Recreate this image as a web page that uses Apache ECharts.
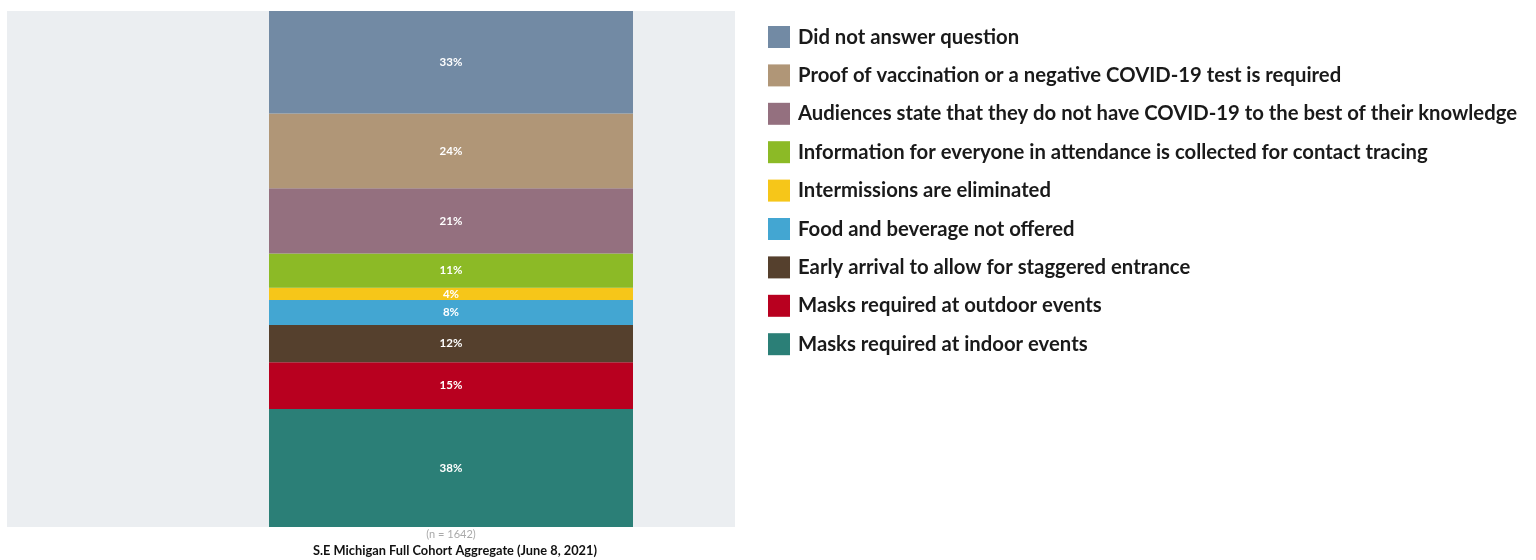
<!DOCTYPE html>
<html>
<head>
<meta charset="utf-8">
<script src="https://cdn.jsdelivr.net/npm/echarts@6/dist/echarts.min.js"></script>
<style>
  html, body { margin: 0; padding: 0; background: #ffffff; }
  #chart { width: 1536px; height: 560px; }
</style>
</head>
<body>
<div id="chart"></div>
<script>
// Stack order: first entry sits at the bottom of the bar
const categories = ['S.E Michigan Full Cohort Aggregate (June 8, 2021)'];
const seriesNames = [
  'Masks required at indoor events',
  'Masks required at outdoor events',
  'Early arrival to allow for staggered entrance',
  'Food and beverage not offered',
  'Intermissions are eliminated',
  'Information for everyone in attendance is collected for contact tracing',
  'Audiences state that they do not have COVID-19 to the best of their knowledge',
  'Proof of vaccination or a negative COVID-19 test is required',
  'Did not answer question'
];
const seriesValues = [38, 15, 12, 8, 4, 11, 21, 24, 33];
const seriesColors = ['#2b7f77', '#b8001f', '#55402d', '#43a6d2', '#f6c619', '#8cba26', '#94707f', '#b09677', '#728aa4'];
const sampleLabel = '(n = 1642)';

const total = seriesValues.reduce((a, b) => a + b, 0);

const chart = echarts.init(document.getElementById('chart'));
chart.setOption({
  animation: false,
  // light backdrop panel behind the bar
  graphic: [{
    type: 'rect',
    z: -10,
    shape: { x: 7, y: 11, width: 728, height: 516 },
    style: { fill: '#ebeef1' }
  }],
  title: {
    text: categories[0],
    left: 450,
    textAlign: 'center',
    bottom: -2,
    textStyle: { fontFamily: 'Lato', fontWeight: 'bold', fontSize: 12.8, color: '#111' }
  },
  legend: {
    orient: 'vertical',
    left: 763,
    top: 21,
    icon: 'rect',
    itemWidth: 22,
    itemHeight: 22,
    itemGap: 16.4,
    data: seriesNames.slice().reverse(),
    textStyle: { fontFamily: 'Lato', fontWeight: 'bold', fontSize: 20.3, lineHeight: 22, color: '#1a1a1a', padding: [0, 0, 0, 3] }
  },
  grid: {
    left: 87, right: 721, top: 11, bottom: 33
  },
  xAxis: {
    type: 'category',
    data: [sampleLabel],
    axisLine: { show: false },
    axisTick: { show: false },
    axisLabel: { color: '#aaa', fontSize: 11, fontFamily: 'Lato', margin: 2 }
  },
  yAxis: {
    type: 'value', min: 0, max: total, show: false
  },
  series: seriesNames.map((name, i) => ({
    name: name,
    type: 'bar',
    stack: 'total',
    barWidth: '50%',
    data: [seriesValues[i]],
    itemStyle: { color: seriesColors[i] },
    label: {
      show: true,
      position: 'inside',
      formatter: '{c}%',
      color: '#fff',
      fontFamily: 'Lato',
      fontWeight: 'bold',
      fontSize: 11.5
    }
  }))
});
</script>
</body>
</html>
